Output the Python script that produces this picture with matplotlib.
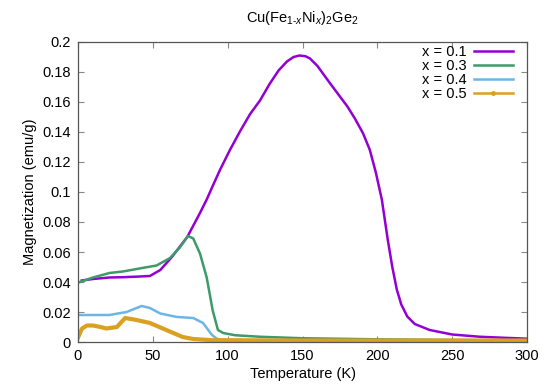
import matplotlib
matplotlib.use("Agg")
import matplotlib.pyplot as plt
from matplotlib.lines import Line2D

plt.rcParams['font.family'] = ['Liberation Sans', 'DejaVu Sans']
plt.rcParams['mathtext.fontset'] = 'custom'
plt.rcParams['mathtext.rm'] = 'Liberation Sans'
plt.rcParams['mathtext.it'] = 'Liberation Sans:italic'

# x = 0.1
T1 = [2.5, 10, 21, 30, 40, 48, 55, 63, 73, 81.5, 86, 90, 95, 101.5, 108, 115, 121.6, 128,
      134, 139.6, 144, 148, 152, 155, 160, 168, 174, 180, 185, 190.5, 195, 199, 203,
      207, 210, 213, 216, 220, 225, 235, 250, 268.5, 285, 300]
M1 = [0.041, 0.042, 0.043, 0.0432, 0.0436, 0.044, 0.048, 0.057, 0.070, 0.086, 0.095,
      0.104, 0.115, 0.128, 0.140, 0.152, 0.161, 0.172, 0.181, 0.187, 0.190, 0.191, 0.1905,
      0.189, 0.184, 0.173, 0.165, 0.157, 0.149, 0.139, 0.128, 0.113, 0.095, 0.068,
      0.050, 0.035, 0.025, 0.017, 0.012, 0.008, 0.005, 0.0035, 0.0028, 0.0022]

# x = 0.3
T3 = [1.3, 10, 21, 30, 41, 52.5, 61.5, 68, 73.5, 77, 81.5, 86, 90, 93.5, 97, 105,
      121.6, 150, 200, 250, 300]
M3 = [0.040, 0.043, 0.046, 0.047, 0.049, 0.051, 0.056, 0.063, 0.0707, 0.069, 0.059,
      0.043, 0.021, 0.008, 0.006, 0.0045, 0.0035, 0.0025, 0.0018, 0.0013, 0.001]

# x = 0.4
T4 = [1.3, 10, 21, 32.5, 42.5, 48, 55, 66, 77, 83.5, 89.5, 93, 100, 150, 200, 250, 300]
M4 = [0.018, 0.018, 0.018, 0.020, 0.024, 0.0227, 0.019, 0.0167, 0.016, 0.0127,
      0.0047, 0.002, 0.0012, 0.001, 0.001, 0.001, 0.001]

# x = 0.5
T5 = [0, 2.7, 6, 10, 15, 19, 26, 31.5, 39, 48, 59, 70, 77, 90, 150, 200, 250, 300]
M5 = [0.003, 0.009, 0.011, 0.011, 0.010, 0.009, 0.010, 0.016, 0.0147, 0.0127, 0.008,
      0.0033, 0.002, 0.0012, 0.001, 0.001, 0.001, 0.001]

labels = ['x = 0.1', 'x = 0.3', 'x = 0.4', 'x = 0.5']
colors = ['#9400d3', '#3d9a6b', '#6cb6e6', '#daa020']

fig = plt.figure(figsize=(5.44, 3.85), dpi=100)
ax = fig.add_axes([78/544, 1-342/385, (527-78)/544, (342-42)/385])

ax.plot(T1, M1, color=colors[0], lw=1.8)
ax.plot(T3, M3, color=colors[1], lw=1.8)
ax.plot(T4, M4, color=colors[2], lw=1.8)
ax.plot(T5, M5, color=colors[3], lw=3.0)

ax.set_xlim(0, 300)
ax.set_ylim(0, 0.2)
ax.set_xticks([0, 50, 100, 150, 200, 250, 300])
ax.set_yticks([0, 0.02, 0.04, 0.06, 0.08, 0.1, 0.12, 0.14, 0.16, 0.18, 0.2])
ax.set_yticklabels(['0', '0.02', '0.04', '0.06', '0.08', '0.1', '0.12', '0.14',
                    '0.16', '0.18', '0.2'])
ax.tick_params(direction='in', top=True, right=True, length=4, width=0.8,
               color='#888888', labelsize=10.5, pad=5)
for s in ax.spines.values():
    s.set_color('#555555')
    s.set_linewidth(0.9)

ax.set_xlabel('Temperature (K)', fontsize=10.5, labelpad=3)
ax.set_ylabel('Magnetization (emu/g)', fontsize=10.5, labelpad=4)
fig.text(0.5 * (78 + 527) / 544, 1 - 18/385,
         r'Cu(Fe$_{1\text{-}x}$Ni$_{x}$)$_2$Ge$_2$', ha='center', va='center',
         fontsize=10.5)

handles = [Line2D([], [], color=colors[0], lw=1.8),
           Line2D([], [], color=colors[1], lw=1.8),
           Line2D([], [], color=colors[2], lw=1.8),
           Line2D([], [], color=colors[3], lw=1.8, marker='o', markersize=2.5)]
ax.legend(handles, labels, loc='upper right', frameon=False, markerfirst=False,
          fontsize=10.5, handlelength=2.7, labelspacing=0.0, borderaxespad=0,
          borderpad=0, handletextpad=0.5,
          bbox_to_anchor=((513 - 78) / 449, 1 - 3 / 300))

fig.savefig('out.png', dpi=100)
